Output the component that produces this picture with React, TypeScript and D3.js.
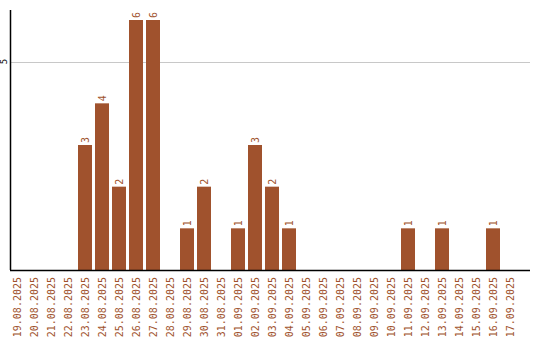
import React from "react";
import * as d3 from "d3";

const categories = [
  "19.08.2025","20.08.2025","21.08.2025","22.08.2025","23.08.2025","24.08.2025","25.08.2025","26.08.2025","27.08.2025","28.08.2025",
  "29.08.2025","30.08.2025","31.08.2025","01.09.2025","02.09.2025","03.09.2025","04.09.2025","05.09.2025","06.09.2025","07.09.2025",
  "08.09.2025","09.09.2025","10.09.2025","11.09.2025","12.09.2025","13.09.2025","14.09.2025","15.09.2025","16.09.2025","17.09.2025",
];
const values = [0,0,0,0,3,4,2,6,6,0, 1,2,0,1,3,2,1,0,0,0, 0,0,0,1,0,1,0,0,1,0];
const yTicks = [5];

const W = 540, H = 340;
const left = 10, right = 530, top = 10, bottom = 270;
const color = "#A0522D";
const font = "'DejaVu Sans Mono', monospace";

export default function App() {
  const x = d3.scaleBand<string>().domain(categories).range([left, left + 17 * categories.length]).paddingInner(3 / 17).paddingOuter(0).align(0);
  const y = d3.scaleLinear().domain([0, 6.24]).range([bottom, top]);
  const bw = 14;
  return (
    <svg width={W} height={H} style={{ position: "absolute", left: 0, top: 0 }}>
      <rect x={0} y={0} width={W} height={H} fill="#fff" />
      {yTicks.map((t) => (
        <g key={t}>
          <line x1={left} x2={right} y1={Math.round(y(t)) + 0.5} y2={Math.round(y(t)) + 0.5} stroke="#c8c8c8" strokeWidth={1} />
          <text transform={`translate(7,${y(t)}) rotate(-90)`} textAnchor="middle" fontFamily={font} fontSize={9} fill="#000">{t}</text>
        </g>
      ))}
      {categories.map((c, i) => {
        const v = values[i];
        const bx = left + 17 * i;
        return (
          <g key={c}>
            {v > 0 && (
              <>
                <rect x={bx} y={y(v)} width={bw} height={bottom - y(v)} fill={color} />
                <text transform={`translate(${bx + bw / 2 + 3.5},${y(v) - 2}) rotate(-90)`} textAnchor="start" fontFamily={font} fontSize={10} fill={color}>{v}</text>
              </>
            )}
            <text transform={`translate(${bx + bw / 2 + 3.5},277) rotate(-90)`} textAnchor="end" fontFamily={font} fontSize={10} fill={color}>{c}</text>
          </g>
        );
      })}
      <line x1={left + 0.5} x2={left + 0.5} y1={top} y2={bottom} stroke="#000" strokeWidth={1.5} />
      <line x1={left} x2={right} y1={bottom + 0.5} y2={bottom + 0.5} stroke="#000" strokeWidth={1.5} />
    </svg>
  );
}
